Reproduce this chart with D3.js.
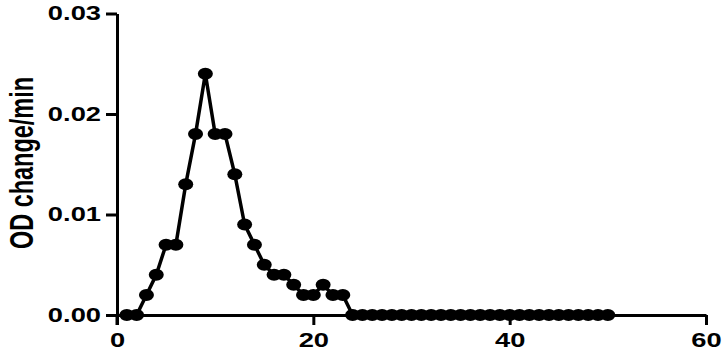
<!DOCTYPE html>
<html>
<head>
<meta charset="utf-8">
<script src="https://cdn.jsdelivr.net/npm/d3@7"></script>
<style>
  body { margin: 0; background: #fff; }
  svg text { font-family: "Liberation Sans", Arial, sans-serif; font-weight: bold; }
</style>
</head>
<body>
<div id="chart"></div>
<script>
const fractions = d3.range(1, 51);
const odChange = [
    0, 0, 0.002, 0.004, 0.007, 0.007, 0.013, 0.018, 0.024, 0.018,
    0.018, 0.014, 0.009, 0.007, 0.005, 0.004, 0.004, 0.003, 0.002, 0.002,
    0.003, 0.002, 0.002, 0, 0, 0, 0, 0, 0, 0,
    0, 0, 0, 0, 0, 0, 0, 0, 0, 0,
    0, 0, 0, 0, 0, 0, 0, 0, 0, 0
];
const xTicks = [0, 20, 40, 60];
const yTicks = [0, 0.01, 0.02, 0.03];

const width = 726;
const height = 353;
const stretch = 1.4; // the original picture is wide-stretched, text included

const svg = d3.select("#chart")
    .append("svg")
    .attr("width", width)
    .attr("height", height);

const x = d3.scaleLinear().domain([0, 60]).range([117, 706]);
const y = d3.scaleLinear().domain([0, 0.03]).range([315, 13.5]);

const data = fractions.map((f, i) => ({ x: f, y: odChange[i] }));

// axes
const yAxis = svg.append("g")
    .attr("transform", `translate(${x(0)},0)`)
    .call(d3.axisLeft(y).tickValues(yTicks).tickFormat(d3.format(".2f")).tickSizeInner(11).tickSizeOuter(0));

const xAxis = svg.append("g")
    .attr("transform", `translate(0,${y(0)})`)
    .call(d3.axisBottom(x).tickValues(xTicks).tickFormat(d3.format("d")).tickSizeInner(10).tickSizeOuter(0).tickPadding(8));

[yAxis, xAxis].forEach(a => {
    a.select(".domain").attr("stroke", "#000").attr("stroke-width", 3);
    a.selectAll(".tick line").attr("stroke", "#000").attr("stroke-width", 3);
    a.selectAll(".tick text").attr("fill", "#000").style("font-size", "19.5px");
});

yAxis.selectAll(".tick text")
    .attr("x", 0)
    .attr("transform", `translate(-16,0) scale(${stretch},1)`);
xAxis.selectAll(".tick text")
    .attr("transform", `scale(${stretch},1)`);

// y axis line runs down to the 0 x-tick
svg.append("line")
    .attr("x1", x(0)).attr("x2", x(0))
    .attr("y1", y(0)).attr("y2", y(0) + 10)
    .attr("stroke", "#000").attr("stroke-width", 3);

svg.append("text")
    .attr("transform", `translate(33,163) scale(1.45,1) rotate(-90)`)
    .attr("text-anchor", "middle")
    .style("font-size", "23.5px")
    .text("OD change/min");

// series
const line = d3.line().x(d => x(d.x)).y(d => y(d.y));

svg.append("path")
    .datum(data)
    .attr("fill", "none")
    .attr("stroke", "#000")
    .attr("stroke-width", 3.5)
    .attr("d", line);

svg.selectAll("ellipse.pt")
    .data(data)
    .enter().append("ellipse")
    .attr("class", "pt")
    .attr("cx", d => x(d.x))
    .attr("cy", d => y(d.y))
    .attr("rx", 7.5)
    .attr("ry", 6)
    .attr("fill", "#000");
</script>
</body>
</html>
